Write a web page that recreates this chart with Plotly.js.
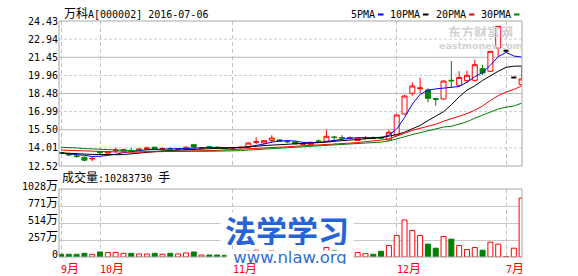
<!DOCTYPE html>
<html><head><meta charset="utf-8">
<script src="https://cdn.plot.ly/plotly-3.0.1.min.js"></script>
<style>html,body{margin:0;padding:0;background:#fff;}#chart{width:578px;height:276px;}</style>
</head><body><div id="chart"></div>
<script>
// ---------------- data ----------------
const stockTitle = '万科A[000002] 2016-07-06';
const volumeTitle = '成交量:10283730 手';
const openP  = [13.63,13.47,13.35,13.23,13.10,13.70,13.58,13.79,13.74,13.80,13.78,13.89,14.06,13.92,13.96,13.90,13.86,14.27,13.99,14.10,
                14.06,14.02,13.98,14.02,14.06,14.47,14.41,14.60,14.66,14.54,14.49,14.30,14.27,14.57,14.55,14.90,14.86,14.80,14.62,14.78,
                14.83,14.88,14.66,15.07,16.79,18.49,18.87,18.76,18.05,18.02,19.56,19.15,19.53,19.56,20.51,20.30,22.21,21.99,19.79,19.20];
const highP  = [13.68,13.59,13.51,13.32,13.32,13.74,13.72,14.00,13.95,13.99,13.98,14.10,14.10,14.05,14.05,13.98,14.15,14.33,14.08,14.15,
                14.12,14.06,14.05,14.10,14.45,14.88,14.66,15.04,14.70,14.65,14.55,14.40,14.52,14.70,15.50,14.98,15.05,14.95,14.85,14.98,
                14.95,14.95,15.48,16.75,18.35,19.39,19.77,18.90,18.13,19.55,21.14,20.30,20.35,21.25,20.84,21.94,23.99,21.99,19.79,20.71];
const lowP   = [13.52,13.32,13.18,12.90,12.91,13.50,13.52,13.59,13.70,13.73,13.75,13.86,13.90,13.82,13.88,13.85,13.82,14.00,13.90,14.00,
                13.98,13.95,13.92,13.98,14.05,14.33,14.33,14.41,14.50,14.40,14.30,14.22,14.25,14.47,14.50,14.55,14.75,14.72,14.58,14.70,
                14.72,14.75,14.62,15.05,16.75,18.29,18.49,17.75,17.47,17.98,18.95,19.10,19.34,19.45,19.97,20.24,21.47,21.99,19.79,19.15];
const closeP = [13.58,13.44,13.31,13.00,13.14,13.62,13.67,13.82,13.86,13.77,13.92,14.00,13.92,13.95,13.93,13.93,14.06,14.08,14.01,14.07,
                14.02,13.98,14.02,14.06,14.41,14.51,14.60,14.82,14.55,14.51,14.35,14.33,14.47,14.54,14.96,14.87,14.82,14.84,14.80,14.82,
                14.80,14.82,15.29,16.71,18.27,19.09,18.93,18.08,18.00,19.50,19.52,19.79,19.97,20.84,20.16,21.94,23.99,21.99,19.79,19.67];
// volume in 万手
const volume = [41,41,41,56,41,76,67,70,56,56,46,46,56,41,56,46,61,76,30,30,
                30,25,45,50,90,102,80,95,60,50,55,45,60,55,143,100,70,60,67,51,
                41,87,174,326,560,402,326,194,133,311,270,174,113,143,102,224,194,6,133,890];
const ma5  = [13.59,13.50,13.45,13.40,13.30,13.32,13.38,13.48,13.62,13.72,13.80,13.86,13.88,13.92,13.95,13.94,13.96,14.00,14.00,14.04,
              14.05,14.03,14.02,14.02,14.10,14.20,14.32,14.48,14.58,14.60,14.57,14.46,14.44,14.44,14.53,14.63,14.73,14.80,14.85,14.83,
              14.82,14.85,15.05,15.55,16.50,17.60,18.40,18.75,18.85,18.90,18.95,19.05,19.40,19.85,20.20,20.80,21.50,21.85,21.55,21.47];
const ma10 = [13.60,13.55,13.52,13.50,13.47,13.45,13.44,13.45,13.46,13.52,13.62,13.68,13.72,13.76,13.79,13.82,13.86,13.90,13.94,13.96,
              13.97,13.97,14.00,14.04,14.08,14.14,14.20,14.25,14.30,14.32,14.34,14.37,14.40,14.42,14.48,14.55,14.60,14.64,14.68,14.72,
              14.78,14.85,14.97,15.10,15.30,15.55,15.85,16.25,16.60,16.98,17.55,18.20,18.75,19.10,19.55,19.95,20.30,20.62,20.72,20.73];
const ma20 = [13.83,13.82,13.80,13.77,13.74,13.71,13.68,13.66,13.65,13.65,13.66,13.67,13.68,13.69,13.70,13.71,13.72,13.74,13.76,13.78,
              13.80,13.84,13.88,13.92,13.95,13.98,14.02,14.06,14.08,14.10,14.14,14.17,14.20,14.24,14.30,14.33,14.36,14.40,14.45,14.50,
              14.58,14.65,14.75,14.95,15.20,15.45,15.62,15.78,15.95,16.20,16.40,16.60,16.82,17.10,17.45,17.90,18.30,18.60,18.80,19.10];
const ma30 = [14.06,14.05,14.00,13.95,13.92,13.88,13.84,13.80,13.77,13.75,13.74,13.73,13.73,13.72,13.72,13.72,13.72,13.72,13.73,13.73,
              13.73,13.73,13.74,13.78,13.83,13.86,13.90,13.95,13.99,14.02,14.06,14.10,14.14,14.17,14.21,14.25,14.28,14.31,14.35,14.39,
              14.43,14.48,14.58,14.72,14.92,15.10,15.25,15.40,15.55,15.72,15.78,15.95,16.15,16.45,16.70,16.95,17.20,17.35,17.45,17.68];
const maNames = ['5PMA','10PMA','20PMA','30PMA'];
const priceTicks = [12.52,14.01,15.50,16.99,18.48,19.96,21.45,22.94,24.43];
const priceTickText = ['12.52','14.01','15.50','16.99','18.48','19.96','21.45','22.94','24.43'];
const volTicks = [0,257,514,771,1028];
const volTickText = ['0','257万','514万','771万','1028万'];
const monthIdx = [0,5,22,43,57];
const monthLabels = ['9月','10月','11月','12月','7月'];
const watermark1 = '东方财富网';
const watermark1b = 'eastmoney.com';
const watermark2 = '法学学习';
const watermark2b = 'www.nlaw.org';

// ---------------- helpers ----------------
const W = 578, H = 276, L = 59, R = 522, T = 21, B = 257;
const MAIN_BOTTOM = 166, VOL_TOP = 189;
const px = x => (x - L) / (R - L);
const py = y => (B - y) / (B - T);
const cjk = s => s.replace(/([\u3000-\u9fff\uff00-\uffef]+)/g, "<span style='font-size:12px'>$1</span>");
const MONO = 'DejaVu Sans Mono, Noto Sans CJK SC, monospace';

const idx = closeP.map((_, i) => i);
const upIdx = idx.filter(i => closeP[i] > openP[i]);
const downIdx = idx.filter(i => closeP[i] < openP[i]);
const flatIdx = idx.filter(i => closeP[i] === openP[i]);
function candle(ids, color, fill, w) {
  const st = {line: {color: color, width: w}, fillcolor: fill};
  return {type: 'candlestick', x: ids, open: ids.map(i => openP[i]), high: ids.map(i => highP[i]),
          low: ids.map(i => lowP[i]), close: ids.map(i => closeP[i]),
          increasing: st, decreasing: st, whiskerwidth: 0, hoverinfo: 'skip', xaxis: 'x', yaxis: 'y'};
}
const volUp = idx.filter(i => closeP[i] >= openP[i]);
const volDown = idx.filter(i => closeP[i] < openP[i]);
const maColors = ['#0000ff', '#000000', '#ff0000', '#008000'];
const maData = [ma5, ma10, ma20, ma30];

const traces = [
  candle(upIdx, '#ff0000', '#ffffff', 1),
  candle(downIdx, '#008000', '#008000', 1),
  candle(flatIdx, '#000000', '#000000', 2),
  {type: 'bar', x: volUp, y: volUp.map(i => volume[i]), width: 0.64, xaxis: 'x', yaxis: 'y2',
   marker: {color: '#ffffff', line: {color: '#ff0000', width: 1}}, hoverinfo: 'skip'},
  {type: 'bar', x: volDown, y: volDown.map(i => volume[i]), width: 0.64, xaxis: 'x', yaxis: 'y2',
   marker: {color: '#008000', line: {color: '#008000', width: 1}}, hoverinfo: 'skip'}
];
maData.forEach((m, k) => traces.push({type: 'scatter', mode: 'lines', x: idx, y: m, xaxis: 'x', yaxis: 'y',
  line: {color: maColors[k], width: 1}, hoverinfo: 'skip', name: maNames[k]}));

// ---------------- shapes ----------------
const shapes = [];
priceTicks.slice(1, -1).forEach((v, k) => {
  const solid = (k % 2) === 1;
  shapes.push({type: 'line', xref: 'paper', x0: 0, x1: 1, yref: 'y', y0: v, y1: v, layer: 'below',
    line: {color: solid ? '#b8b8b8' : '#cccccc', width: 1, dash: solid ? 'solid' : '3px,2px'}});
});
shapes.push({type: 'rect', xref: 'paper', yref: 'paper', x0: 0, x1: 1, y0: py(MAIN_BOTTOM), y1: 1, layer: 'above',
  line: {color: '#a8a8a8', width: 1}, fillcolor: 'rgba(0,0,0,0)'});
shapes.push({type: 'rect', xref: 'paper', yref: 'paper', x0: 0, x1: 1, y0: 0, y1: py(VOL_TOP), layer: 'above',
  line: {color: '#a8a8a8', width: 1}, fillcolor: 'rgba(0,0,0,0)'});
// legend dashes
const legTextRight = [376.5, 421.5, 467.5, 512.5];
legTextRight.forEach((xr, k) => {
  shapes.push({type: 'rect', xref: 'paper', yref: 'paper', x0: px(xr + 1.5), x1: px(xr + 7), y0: py(15.5), y1: py(13.5),
    fillcolor: maColors[k], line: {width: 0}, layer: 'above'});
});

// ---------------- annotations ----------------
const annotations = [];
annotations.push({xref: 'paper', yref: 'paper', x: px(480), y: py(31), xanchor: 'center', yanchor: 'middle',
  text: '<b>' + watermark1 + '</b>', showarrow: false, height: 12, font: {family: 'Noto Sans CJK SC', size: 13, color: '#d2d2d2'}});
annotations.push({xref: 'paper', yref: 'paper', x: px(481), y: py(45.5), xanchor: 'center', yanchor: 'middle',
  text: '<b>' + watermark1b + '</b>', showarrow: false, height: 8, font: {family: 'DejaVu Sans', size: 9.5, color: '#d2d2d2'}});
annotations.push({xref: 'paper', yref: 'paper', x: px(61.5), y: py(14), xanchor: 'left', yanchor: 'middle',
  text: cjk(stockTitle), showarrow: false, font: {family: MONO, size: 10, color: '#000'}});
annotations.push({xref: 'paper', yref: 'paper', x: px(59.5), y: py(177.5), xanchor: 'left', yanchor: 'middle',
  text: cjk(volumeTitle), showarrow: false, font: {family: MONO, size: 10, color: '#000'}});
maNames.forEach((n, k) => annotations.push({xref: 'paper', yref: 'paper', x: px(legTextRight[k]), y: py(14),
  xanchor: 'right', yanchor: 'middle', text: n, showarrow: false, font: {family: MONO, size: 10, color: '#000'}}));
annotations.push({xref: 'paper', yref: 'paper', x: px(287), y: py(229), xanchor: 'center', yanchor: 'middle',
  text: '<b>' + watermark2 + '</b>', showarrow: false, bgcolor: '#ffffff', borderpad: 0, width: 132, height: 32,
  font: {family: 'Noto Sans CJK SC', size: 31, color: '#2563d6'}});
annotations.push({xref: 'paper', yref: 'paper', x: px(290), y: py(257.5), xanchor: 'center', yanchor: 'middle',
  text: watermark2b, showarrow: false, bgcolor: '#ffffff', borderpad: 0, width: 126, height: 13,
  font: {family: 'DejaVu Sans', size: 16.5, color: '#2f6fd4'}});
monthIdx.forEach((m, k) => annotations.push({xref: 'x', yref: 'paper', x: m, y: py(268.5), xanchor: 'left', yanchor: 'middle',
  xshift: -2, text: cjk(monthLabels[k]), showarrow: false, font: {family: MONO, size: 10, color: '#ff0000'}}));

// ---------------- layout ----------------
const layout = {
  width: W, height: H,
  margin: {l: L, r: W - R, t: T, b: H - B, pad: 0},
  paper_bgcolor: '#ffffff', plot_bgcolor: 'rgba(0,0,0,0)',
  showlegend: false, hovermode: false, dragmode: false,
  boxgap: 0.36, boxgroupgap: 0, barmode: 'overlay',
  font: {family: MONO, size: 10, color: '#000'},
  xaxis: {range: [-0.256, 59.05], tickvals: monthIdx, showticklabels: false, ticks: '',
          showgrid: true, gridcolor: '#c4c4c4', griddash: '4px,3px', gridwidth: 1,
          zeroline: false, showline: false, rangeslider: {visible: false}, anchor: 'y2', fixedrange: true},
  yaxis: {domain: [py(MAIN_BOTTOM), 1], range: [12.52, 24.43], tickvals: priceTicks,
          ticktext: priceTickText, showgrid: false, zeroline: false, ticks: '', showline: false,
          tickfont: {family: MONO, size: 10, color: '#000'}, fixedrange: true},
  yaxis2: {domain: [0, py(VOL_TOP)], range: [0, 1028], tickvals: volTicks,
           ticktext: volTickText.map(cjk), showgrid: true, gridcolor: '#c8c8c8', gridwidth: 1,
           zeroline: false, ticks: '', showline: false, ticklabelshift: -3,
           tickfont: {family: MONO, size: 10, color: '#000'}, fixedrange: true},
  shapes: shapes,
  annotations: annotations
};

Plotly.newPlot('chart', traces, layout, {staticPlot: true, displayModeBar: false});
</script>
</body></html>
